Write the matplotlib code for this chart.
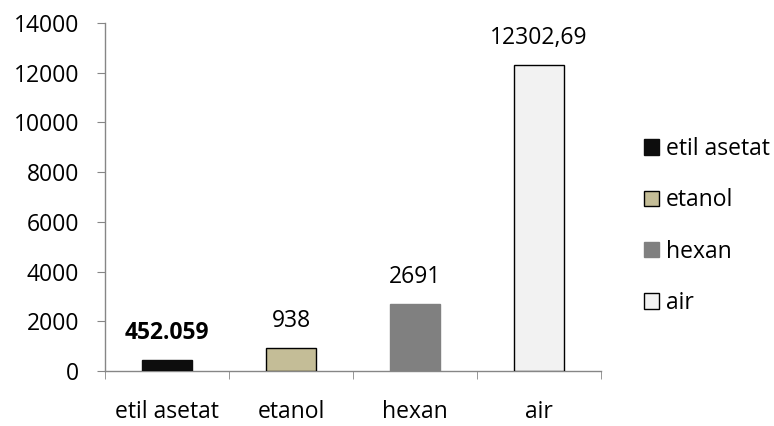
import matplotlib
matplotlib.use("Agg")
import matplotlib.pyplot as plt
from matplotlib.patches import Patch
import numpy as np

categories = ["etil asetat", "etanol", "hexan", "air"]
values = [452.059, 938, 2691, 12302.69]
labels = ["452.059", "938", "2691", "12302,69"]
yticks = [0, 2000, 4000, 6000, 8000, 10000, 12000, 14000]

colors = ["#0d0d0d", "#c4bd97", "#808080", "#f2f2f2"]
edges = ["#0d0d0d", "#000000", "#808080", "#000000"]
label_weights = ["bold", "normal", "normal", "normal"]

plt.rcParams['font.family'] = ['Open Sans', 'DejaVu Sans']
FS = 16.5

fig = plt.figure(figsize=(7.74, 4.26), dpi=100)
ax = fig.add_axes([105/774, 55/426, (601-105)/774, (371-23)/426])

x = np.arange(len(categories))
for i in range(len(categories)):
    ax.bar(x[i], values[i], width=0.4, color=colors[i], edgecolor=edges[i], linewidth=1.0, zorder=3)
    ax.annotate(labels[i], (x[i], values[i]), xytext=(0, 27 * 0.72), textcoords="offset points",
                ha="center", va="center", fontsize=FS, fontweight=label_weights[i])

ax.set_xlim(-0.5, len(categories) - 0.5)
ax.set_ylim(0, 14000)
ax.set_yticks(yticks)
ax.set_yticklabels([str(t) for t in yticks], fontsize=FS)
ax.set_xticks(x)
ax.set_xticklabels(categories, fontsize=FS)
ax.set_xticks(np.arange(-0.5, len(categories), 1.0), minor=True)
ax.tick_params(axis="x", which="major", length=0, pad=21)
ax.tick_params(axis="x", which="minor", length=5.75, color="#868686", direction="out")
ax.tick_params(axis="y", length=5.75, color="#868686", direction="out", pad=13)

for s in ["top", "right"]:
    ax.spines[s].set_visible(False)
for s in ["left", "bottom"]:
    ax.spines[s].set_color("#868686")
    ax.spines[s].set_linewidth(1.0)

handles = [Patch(facecolor=colors[i], edgecolor=edges[i], linewidth=1.0) for i in range(len(categories))]
fig.legend(handles, categories, loc="center left", bbox_to_anchor=(644/774, (426-226)/426),
           frameon=False, fontsize=FS, labelspacing=1.19, handlelength=0.65, handleheight=0.65,
           handletextpad=0.3, borderaxespad=0, borderpad=0)

fig.savefig("out.png", dpi=100)
